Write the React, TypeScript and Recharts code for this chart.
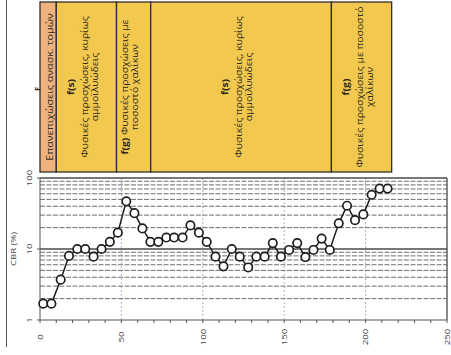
import { Bar, BarChart, ComposedChart, Line, ReferenceLine, XAxis, YAxis } from "recharts";

// CBR profile along the section (chainage in m, CBR in %)
const chainage = [
  2, 7, 12.7, 17.8, 22.9, 27.8, 32.9, 37.8, 42.9, 47.8, 53, 58, 62.9, 67.8, 72.7,
  77.6, 82.4, 87.6, 92.4, 97.6, 102.4, 107.8, 112.7, 117.8, 122.7, 127.9, 132.9,
  138, 143, 148, 153, 158, 163, 168, 173, 178, 183.5, 188.6, 193.5, 198.6, 203.7,
  208.6, 213.5,
];
const cbr = [
  1.7, 1.7, 3.7, 8, 10, 10, 7.8, 10, 12.6, 17, 47, 32, 19.5, 12.6, 12.6, 14.5, 14.5,
  14.5, 21.5, 17, 12.6, 7.8, 5.7, 10, 7.8, 5.5, 7.8, 7.8, 12.1, 7.8, 9.7, 12.1, 7.7,
  9.7, 14, 9.7, 23, 40.7, 25.5, 30.7, 58, 71, 71,
];

// soil units along the same chainage
const unitFrom = [0, 10, 47, 68, 179];
const unitTo = [10, 47, 68, 179, 216];
const unitCodes = ["", "f(s)", "f(g)", "f(s)", "f(g)"];
const unitText = [
  ["Επανεπιχώσεις ανασκ. τομών"],
  ["Φυσικές προσχώσεις, κυρίως", "αμμοϊλυώδεις"],
  ["Φυσικές προσχώσεις με", "ποσοστό χαλίκων"],
  ["Φυσικές προσχώσεις, κυρίως", "αμμοϊλυώδεις"],
  ["Φυσικές προσχώσεις με ποσοστό", "χαλίκων"],
];

const xTicks = [0, 10, 20, 30, 40, 50, 60, 70, 80, 90, 100, 110, 120, 130, 140, 150, 160, 170, 180, 190, 200, 210, 220, 230, 240, 250];
const yTicks = [1, 10, 100];
const yMinor = [2, 3, 4, 5, 6, 7, 8, 9, 20, 30, 40, 50, 60, 70, 80, 90];
const xMajor = [50, 100, 150, 200];

const FONT = "'Open Sans', 'Noto Sans', sans-serif";
const INK = "#2f2b1e";
const AXIS_INK = "#444";
// the sheet's lettering is drawn a little tall and narrow
const STRETCH = 1.25;

const profile = chainage.map((d, i) => ({ depth: d, cbr: cbr[i] }));
const unitRow: Record<string, number | string> = { name: "units" };
unitFrom.forEach((f, i) => {
  unitRow[`u${i}`] = unitTo[i] - f;
});

function UnitShape(props: any) {
  const { x, y, width, height, unit } = props;
  const code = unitCodes[unit];
  const lines = unitText[unit];
  const fill = code === "" ? "#efb27e" : "#f2c94e";
  const inline = code !== "" && width < 40;

  const rows: { text: string; code?: string; offset: number }[] = [];
  let off = 0;
  if (code && !inline) {
    rows.push({ text: "", code, offset: 0 });
    off = 14.5;
  }
  lines.forEach((t, i) => {
    rows.push({ text: t, code: inline && i === 0 ? code : undefined, offset: off });
    off += 10;
  });
  const span = rows[rows.length - 1].offset;
  const cx = x + width / 2 - (code ? 4 : -1.5);
  const cy = y + height / 2;

  return (
    <g>
      <rect x={x} y={y} width={width} height={height} fill={fill} stroke="#2e2e2e" strokeWidth={1.3} />
      <g transform={`translate(${cx - span / 2},${cy}) rotate(-90) scale(${STRETCH},1)`}>
        {rows.map((r, i) => (
          <text
            key={i}
            x={0}
            y={r.offset}
            textAnchor="middle"
            dominantBaseline="central"
            fontFamily={FONT}
            fontSize={code ? 8.3 : 8.6}
            fill={INK}
          >
            {r.code && (
              <tspan fontWeight={700}>
                {r.code}
                {r.text ? " " : ""}
              </tspan>
            )}
            {r.text}
          </text>
        ))}
      </g>
    </g>
  );
}

function Upright({ x, y, children, size = 8, weight = 400 }: any) {
  return (
    <g transform={`translate(${x},${y}) rotate(-90) scale(1.2,1)`}>
      <text
        x={0}
        y={0}
        textAnchor="middle"
        dominantBaseline="central"
        fontFamily={FONT}
        fontSize={size}
        fontWeight={weight}
        fill={AXIS_INK}
      >
        {children}
      </text>
    </g>
  );
}

function XTick(props: any) {
  const { x, y, payload } = props;
  if (payload.value % 50 !== 0) return null;
  return <Upright x={x} y={y + 12}>{payload.value}</Upright>;
}

function YTick(props: any) {
  const { y, payload } = props;
  return <Upright x={29} y={y}>{payload.value}</Upright>;
}

function CbrLabel(props: any) {
  const { viewBox } = props;
  return <Upright x={13} y={viewBox.y + viewBox.height / 2}>CBR (%)</Upright>;
}

export default function App() {
  return (
    <div style={{ position: "absolute", left: 0, top: 0, width: 451, height: 355, background: "#fff", overflow: "hidden" }}>
      <div style={{ position: "absolute", left: 6, top: 0, height: 347, borderLeft: "1.5px solid #5a5a5a" }} />

      <div style={{ position: "absolute", left: 0, top: 0 }}>
        <BarChart
          width={451}
          height={175}
          layout="vertical"
          data={[unitRow]}
          margin={{ top: 2, right: 4, bottom: 3, left: 0 }}
          barCategoryGap={0}
        >
          <XAxis type="number" domain={[0, 250]} hide />
          <YAxis
            type="category"
            dataKey="name"
            width={40}
            tick={false}
            axisLine={false}
            tickLine={false}
            label={{ value: "F", angle: -90, position: "insideRight", offset: 2, fontSize: 7, fontWeight: 700, fill: INK, fontFamily: FONT }}
          />
          {unitFrom.map((_, i) => (
            <Bar
              key={i}
              dataKey={`u${i}`}
              stackId="units"
              isAnimationActive={false}
              shape={(p: any) => <UnitShape {...p} unit={i} />}
            />
          ))}
        </BarChart>
      </div>

      <div style={{ position: "absolute", left: 0, top: 160 }}>
        <ComposedChart width={451} height={195} data={profile} margin={{ top: 18, right: 4, bottom: 0, left: 0 }}>
          <XAxis
            type="number"
            dataKey="depth"
            domain={[0, 250]}
            ticks={xTicks}
            interval={0}
            height={35}
            tickSize={3}
            tick={<XTick />}
            stroke="#555"
          />
          <YAxis
            type="number"
            scale="log"
            domain={[1, 100]}
            ticks={yTicks}
            allowDataOverflow
            width={40}
            tickSize={3}
            tick={<YTick />}
            stroke="#555"
            label={<CbrLabel />}
          />
          {xMajor.map((v) => (
            <ReferenceLine key={`x${v}`} x={v} stroke="#aab3cf" strokeDasharray="2 2" />
          ))}
          {yMinor.map((v) => (
            <ReferenceLine key={`y${v}`} y={v} stroke="#6e6e6e" strokeDasharray="5 1.5" />
          ))}
          <ReferenceLine y={10} stroke="#4a4a4a" strokeWidth={1.3} />
          <ReferenceLine y={100} stroke="#4a4a4a" strokeWidth={1.3} />
          <ReferenceLine x={250} stroke="#4a4a4a" strokeWidth={1.3} />
          <Line
            type="linear"
            dataKey="cbr"
            stroke="#1e1e1e"
            strokeWidth={1.5}
            dot={{ r: 4.2, fill: "#fff", stroke: "#1e1e1e", strokeWidth: 1.7 }}
            isAnimationActive={false}
          />
        </ComposedChart>
      </div>
    </div>
  );
}
